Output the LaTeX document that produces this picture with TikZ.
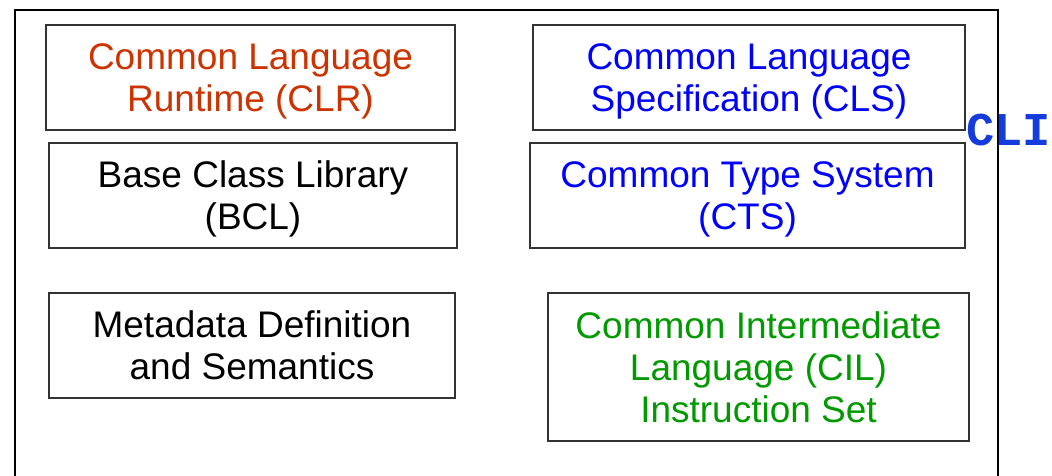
\documentclass[tikz,border=0pt]{standalone}
\usepackage{fontspec}
\setmainfont{Liberation Sans}
\newfontfamily\clifont{Liberation Mono}
\usetikzlibrary{positioning}
\definecolor{clrred}{RGB}{204,51,0}
\definecolor{specblue}{RGB}{0,0,255}
\definecolor{cilgreen}{RGB}{0,153,0}
\definecolor{cliblue}{RGB}{20,60,220}
\newcommand*{\tallstrut}{\rule{0pt}{34pt}}
\tikzset{
  part/.style={draw=black!80,line width=1.2pt,inner sep=0pt,align=center,
    font=\fontsize{37}{42}\selectfont},
}

\begin{document}
\begin{tikzpicture}[x=1pt,y=-1pt]
\useasboundingbox (0,0) rectangle (1052,475);
\clip (0,0) rectangle (1052,475);

% Outer frame of the CLI
\coordinate (F1) at (15,10);
\coordinate (F2) at (998,500);
\draw [line width=2pt] (F1) rectangle (F2);

% Left column
\node [part,minimum width=409pt,minimum height=105pt,text=clrred] (clr) at (250.5,77.5)
  {\tallstrut Common Language\\Runtime (CLR)};
\node [part,minimum width=408pt,minimum height=105pt] (bcl) at (253,195.5)
  {\tallstrut Base Class Library\\(BCL)};
\node [part,minimum width=406pt,minimum height=105pt] (mds) at (252,345.5)
  {Metadata Definition\\and Semantics};

% Right column
\node [part,minimum width=432pt,minimum height=105pt,text=specblue] (cls) at (749,77.5)
  {\tallstrut Common Language\\Specification (CLS)};
\node [part,minimum width=435pt,minimum height=105pt,text=specblue] (cts) at (747.5,195.5)
  {\tallstrut Common Type System\\(CTS)};
\node [part,minimum width=421pt,minimum height=148pt,text=cilgreen] (cil) at (758.5,367)
  {Common Intermediate\\Language (CIL)\\Instruction Set};

% Label on the frame
\node [anchor=base west,inner sep=0pt,text=cliblue,font=\clifont\bfseries\fontsize{47}{47}\selectfont]
  (cli) at (966,145) {CLI};

\end{tikzpicture}
\end{document}
